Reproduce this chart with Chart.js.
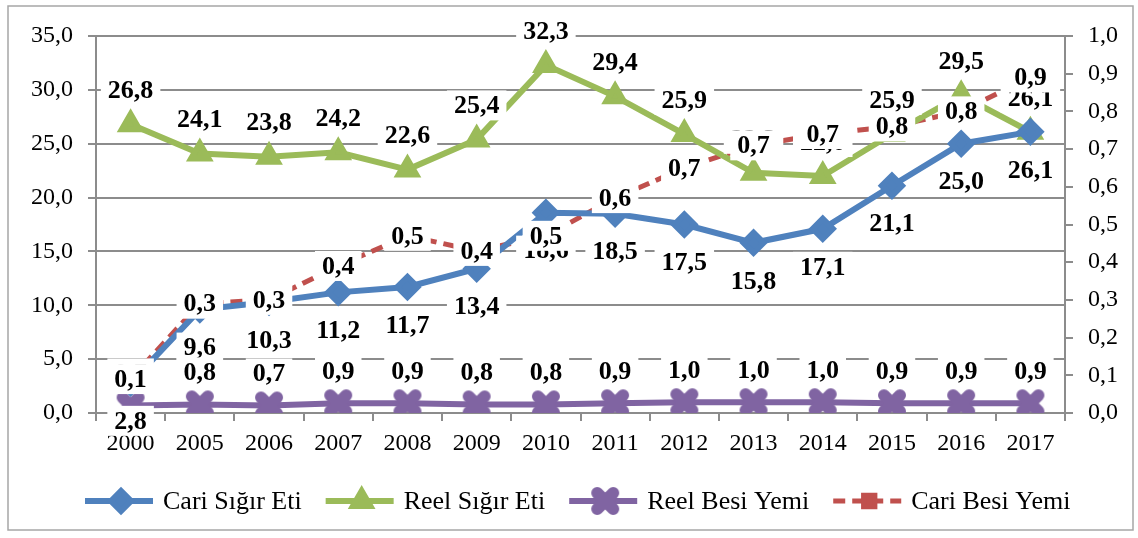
<!DOCTYPE html>
<html>
<head>
<meta charset="utf-8">
<script src="https://cdn.jsdelivr.net/npm/chart.js@4.4.1/dist/chart.umd.min.js"></script>
<style>
  html, body { margin: 0; padding: 0; background: #fff; }
  canvas { display: block; }
</style>
</head>
<body>
<canvas id="chart" width="1138" height="538"></canvas>
<script>
// Years and series
const years = ['2000', '2005', '2006', '2007', '2008', '2009', '2010', '2011', '2012', '2013', '2014', '2015', '2016', '2017'];
const cariSigirEti = [2.8, 9.6, 10.3, 11.2, 11.7, 13.4, 18.6, 18.5, 17.5, 15.8, 17.1, 21.1, 25.0, 26.1];
const reelSigirEti = [26.8, 24.1, 23.8, 24.2, 22.6, 25.4, 32.3, 29.4, 25.9, 22.3, 22.0, 25.9, 29.5, 26.1];
const reelBesiYemi = [0.7, 0.8, 0.7, 0.9, 0.9, 0.8, 0.8, 0.9, 1.0, 1.0, 1.0, 0.9, 0.9, 0.9];
const cariBesiYemi = [0.09, 0.29, 0.30, 0.39, 0.47, 0.43, 0.47, 0.57, 0.65, 0.71, 0.74, 0.76, 0.80, 0.89];

const serif = '"Liberation Serif", "Times New Roman", serif';
const fmt = v => v.toFixed(1).replace('.', ',');

// fat X marker with round ends, like the Excel one
function makeXMarker(color) {
    const c = document.createElement('canvas');
    c.width = 32; c.height = 32;
    const g = c.getContext('2d');
    g.strokeStyle = color;
    g.lineWidth = 12;
    g.lineCap = 'round';
    g.beginPath();
    g.moveTo(8, 8); g.lineTo(24, 24);
    g.moveTo(24, 8); g.lineTo(8, 24);
    g.stroke();
    return c;
}
const xMarker = makeXMarker('#8064A2');

// label offsets from the point, per dataset (Excel label positions)
const labelShift = [38, -34, -32, 0];

const valueLabels = {
    id: 'valueLabels',
    afterDatasetsDraw(chart) {
        const ctx = chart.ctx;
        ctx.save();
        ctx.font = 'bold 26px ' + serif;
        ctx.textAlign = 'center';
        ctx.textBaseline = 'middle';
        chart.data.datasets.forEach((ds, i) => {
            const meta = chart.getDatasetMeta(i);
            meta.data.forEach((pt, j) => {
                const txt = fmt(ds.data[j]);
                const x = pt.x;
                const y = pt.y + labelShift[i];
                const w = ctx.measureText(txt).width + 14;
                ctx.fillStyle = '#fff';
                ctx.fillRect(x - w / 2, y - 15, w, 30);
                ctx.fillStyle = '#000';
                ctx.fillText(txt, x, y + 1);
            });
        });
        ctx.restore();
    }
};

// legend with line samples + frame around the chart
const legendAndFrame = {
    id: 'legendAndFrame',
    afterDraw(chart) {
        const ctx = chart.ctx;
        ctx.save();
        ctx.strokeStyle = '#a6a6a6';
        ctx.lineWidth = 1.5;
        ctx.strokeRect(8, 6, 1125, 524);

        ctx.font = '26px ' + serif;
        ctx.textBaseline = 'middle';
        ctx.textAlign = 'left';
        let x = 85;
        const y = 501;
        chart.data.datasets.forEach(ds => {
            ctx.save();
            ctx.strokeStyle = ds.borderColor;
            ctx.lineWidth = ds.borderWidth;
            ctx.setLineDash(ds.borderDash || []);
            ctx.beginPath();
            ctx.moveTo(x, y);
            ctx.lineTo(x + 68, y);
            ctx.stroke();
            ctx.setLineDash([]);
            ctx.fillStyle = ds.pointBackgroundColor;
            ctx.strokeStyle = ds.pointBorderColor;
            Chart.helpers.drawPoint(ctx, {
                pointStyle: ds.pointStyle,
                radius: ds.pointRadius,
                rotation: 0,
                borderWidth: 1
            }, x + 36, y);
            ctx.restore();
            ctx.fillStyle = '#000';
            ctx.fillText(ds.label, x + 78, y + 1);
            x += 78 + ctx.measureText(ds.label).width + 24;
        });
        ctx.restore();
    }
};

const tickFont = { family: serif, size: 24 };

new Chart(document.getElementById('chart'), {
    type: 'line',
    data: {
        labels: years,
        datasets: [
            {
                label: 'Cari Sığır Eti',
                data: cariSigirEti,
                yAxisID: 'y',
                borderColor: '#4F81BD',
                borderWidth: 6,
                pointStyle: 'rectRot',
                pointRadius: 10,
                pointBackgroundColor: '#4F81BD',
                pointBorderColor: '#4F81BD'
            },
            {
                label: 'Reel Sığır Eti',
                data: reelSigirEti,
                yAxisID: 'y',
                borderColor: '#9BBB59',
                borderWidth: 6,
                pointStyle: 'triangle',
                pointRadius: 10,
                pointBackgroundColor: '#9BBB59',
                pointBorderColor: '#9BBB59'
            },
            {
                label: 'Reel Besi Yemi',
                data: reelBesiYemi,
                yAxisID: 'y',
                borderColor: '#8064A2',
                borderWidth: 6,
                pointStyle: xMarker,
                pointRadius: 15,
                pointBackgroundColor: '#8064A2',
                pointBorderColor: '#8064A2'
            },
            {
                label: 'Cari Besi Yemi',
                data: cariBesiYemi,
                yAxisID: 'y1',
                borderColor: '#C0504D',
                borderWidth: 5,
                borderDash: [12, 7],
                pointStyle: 'rect',
                pointRadius: 8,
                pointBackgroundColor: '#C0504D',
                pointBorderColor: '#C0504D'
            }
        ]
    },
    options: {
        responsive: false,
        devicePixelRatio: 1,
        animation: false,
        layout: { padding: { top: 36, left: 0, right: 0, bottom: 0 } },
        elements: { line: { tension: 0 } },
        plugins: {
            legend: { display: false },
            tooltip: { enabled: false }
        },
        scales: {
            x: {
                z: 1,
                offset: true,
                grid: {
                    offset: true,
                    drawOnChartArea: false,
                    color: '#8c8c8c',
                    lineWidth: 2,
                    tickLength: 8
                },
                border: { color: '#8c8c8c', width: 2 },
                ticks: { color: '#000', font: tickFont, padding: 8, maxRotation: 0, autoSkip: false },
                afterFit(scale) { scale.height = 125; }
            },
            y: {
                position: 'left',
                min: 0,
                max: 35,
                grid: { color: '#8c8c8c', lineWidth: 2, tickLength: 8 },
                border: { color: '#8c8c8c', width: 2 },
                ticks: {
                    stepSize: 5,
                    color: '#000',
                    font: tickFont,
                    padding: 15,
                    callback: v => fmt(v)
                },
                afterFit(scale) { scale.width = 96; }
            },
            y1: {
                position: 'right',
                min: 0,
                max: 1,
                grid: { drawOnChartArea: false, color: '#8c8c8c', lineWidth: 2, tickLength: 8 },
                border: { color: '#8c8c8c', width: 2 },
                ticks: {
                    stepSize: 0.1,
                    color: '#000',
                    font: tickFont,
                    padding: 15,
                    callback: v => fmt(v)
                },
                afterFit(scale) { scale.width = 73; }
            }
        }
    },
    plugins: [valueLabels, legendAndFrame]
});
</script>
</body>
</html>
